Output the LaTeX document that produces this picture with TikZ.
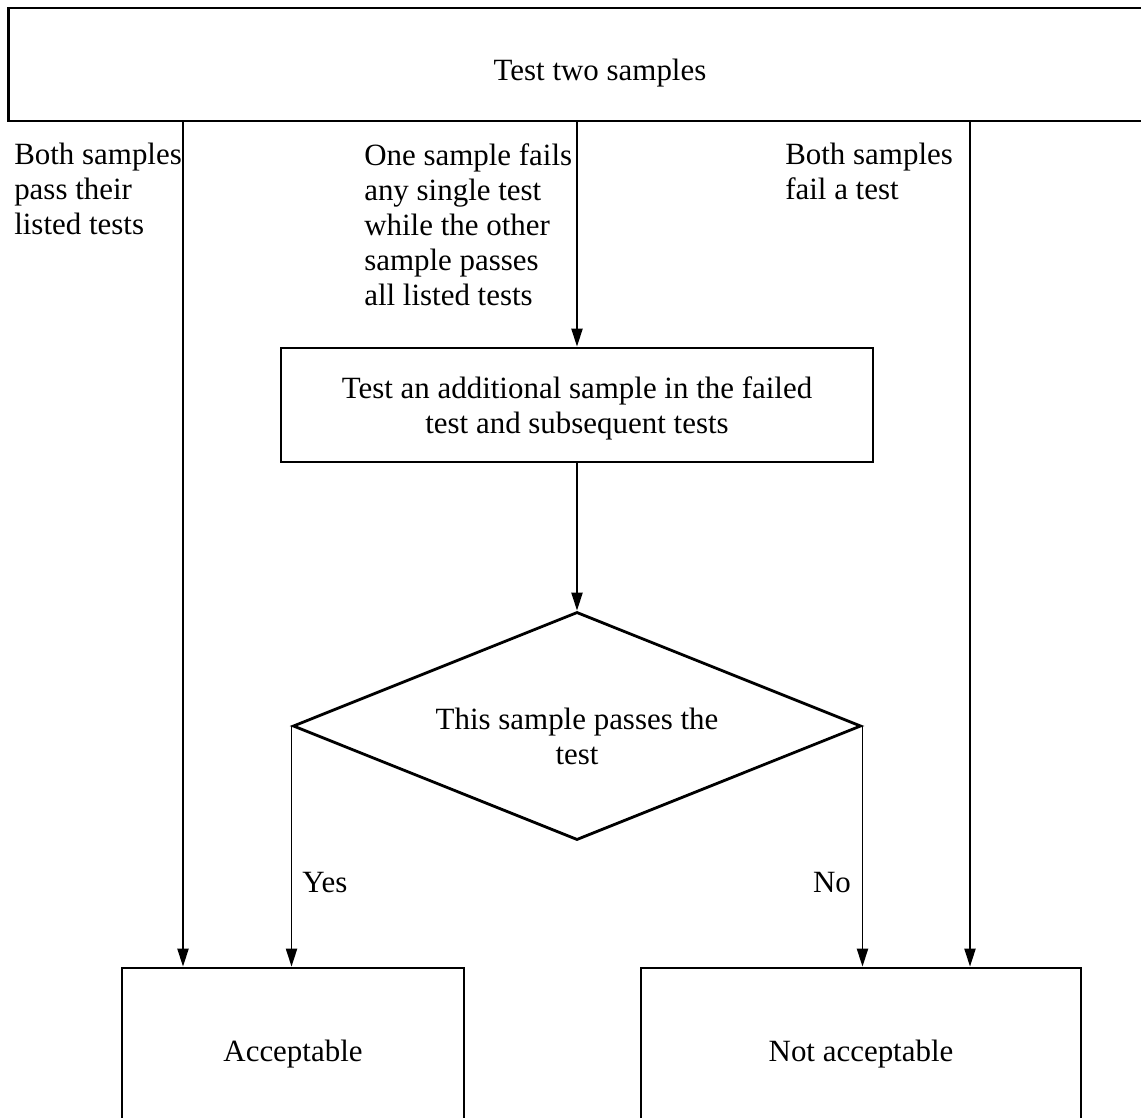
\documentclass[tikz,border=0pt]{standalone}
\usepackage{fontspec}
\setmainfont{Liberation Serif}
\usetikzlibrary{shapes.geometric,arrows.meta}

\tikzset{
  box/.style={draw, line width=2pt, inner sep=0pt, align=center, text depth=0pt},
  arr/.style={line width=1.1pt, -{Triangle[length=0.45cm,width=0.28cm]}},
  lbl/.style={inner sep=0pt, anchor=north west, align=left}
}

\begin{document}
\begin{tikzpicture}[x=0.025cm, y=-0.025cm, font=\fontsize{22}{24.9}\selectfont]
\useasboundingbox (0,0) rectangle (1141,1117);
\clip (0,0) rectangle (1141,1117);

\node[box, minimum width=29.55cm, minimum height=2.825cm, text height=0.78cm] (top) at (600,64.5) {Test two samples};
\node[box, minimum width=14.8cm, minimum height=2.85cm] (mid) at (577,405) {Test an additional sample in the failed\\test and subsequent tests};
\node[box, diamond, aspect=2.49, minimum width=14.2cm, minimum height=5.7cm, text height=1.93cm] (dec) at (577,726) {This sample passes the\\test};
\node[box, minimum width=8.55cm, minimum height=4.15cm] (acc) at (293,1051) {Acceptable};
\node[box, minimum width=11cm, minimum height=4.15cm] (nacc) at (861,1051) {Not acceptable};

\coordinate (lx) at (183,0);
\coordinate (rx) at (970,0);

\draw[arr] (top.south -| lx) -- (acc.north -| lx);
\draw[arr] (top.south -| mid.north) -- (mid.north);
\draw[arr] (top.south -| rx) -- (nacc.north -| rx);
\draw[arr] (mid.south) -- (dec.north);
\draw[arr] (dec.west) -- (acc.north -| dec.west);
\draw[arr] (dec.east) -- (nacc.north -| dec.east);

\node[lbl] (pass) at (14,143) {Both samples\\pass their\\listed tests};
\node[lbl] (one) at (364,143) {One sample fails\\any single test\\while the other\\sample passes\\all listed tests};
\node[lbl] (fail) at (785,143) {Both samples\\fail a test};
\node (yes) at (325,883) {Yes};
\node (no) at (832,883) {No};
\end{tikzpicture}
\end{document}
